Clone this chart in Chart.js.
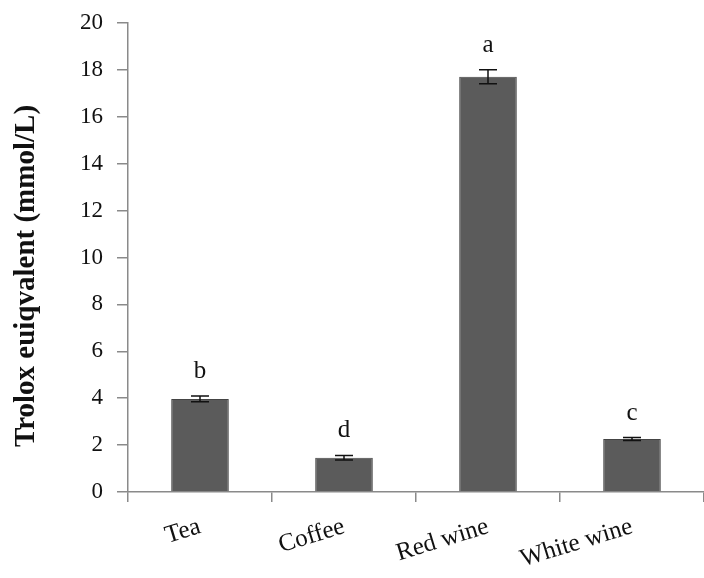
<!DOCTYPE html>
<html>
<head>
<meta charset="utf-8">
<script src="https://cdn.jsdelivr.net/npm/chart.js@4/dist/chart.umd.min.js"></script>
<style>
  html, body { margin: 0; padding: 0; background: #ffffff; }
  #wrap { width: 704px; height: 578px; position: relative; }
</style>
</head>
<body>
<div id="wrap"><canvas id="chart" width="704" height="578"></canvas></div>
<script>
// Antioxidant capacity of beverages
const categories = ['Tea', 'Coffee', 'Red wine', 'White wine'];
const troloxValues = [3.97, 1.46, 17.71, 2.26];
const troloxErrors = [0.12, 0.10, 0.30, 0.06];
const groupLetters = ['b', 'd', 'a', 'c'];
const yTicks = [0, 2, 4, 6, 8, 10, 12, 14, 16, 18, 20];

const SERIF = '"Liberation Serif", "Times New Roman", serif';
const AXIS_GREY = '#8a8a8a';

// Error bars (caps + stem) and significance letters above each bar
const errorBarPlugin = {
  id: 'errorBars',
  afterDatasetsDraw(chart) {
    const { ctx, scales: { y } } = chart;
    const meta = chart.getDatasetMeta(0);
    ctx.save();
    meta.data.forEach((bar, i) => {
      const v = troloxValues[i];
      const e = troloxErrors[i];
      const yTop = y.getPixelForValue(v + e);
      const yBot = y.getPixelForValue(v - e);
      const x = bar.x;
      ctx.strokeStyle = '#111111';
      ctx.lineWidth = 1.5;
      ctx.beginPath();
      ctx.moveTo(x, yTop); ctx.lineTo(x, yBot);
      ctx.moveTo(x - 9, yTop); ctx.lineTo(x + 9, yTop);
      ctx.moveTo(x - 9, yBot); ctx.lineTo(x + 9, yBot);
      ctx.stroke();

      ctx.fillStyle = '#111111';
      ctx.font = '25px ' + SERIF;
      ctx.textAlign = 'center';
      ctx.textBaseline = 'alphabetic';
      ctx.fillText(groupLetters[i], x, yTop - 18);
    });
    ctx.restore();
  }
};

// Vertical axis title
const yTitlePlugin = {
  id: 'yTitle',
  afterDraw(chart) {
    const { ctx } = chart;
    ctx.save();
    ctx.translate(27, 276);
    ctx.rotate(-Math.PI / 2);
    ctx.fillStyle = '#111111';
    ctx.font = 'bold 29px ' + SERIF;
    ctx.textAlign = 'center';
    ctx.textBaseline = 'middle';
    ctx.fillText('Trolox euiqvalent (mmol/L)', 0, 0);
    ctx.restore();
  }
};

new Chart(document.getElementById('chart'), {
  type: 'bar',
  data: {
    labels: categories,
    datasets: [{
      data: troloxValues,
      backgroundColor: '#5b5b5b',
      borderColor: '#444444',
      borderWidth: 1,
      barPercentage: 0.4,
      categoryPercentage: 1.0
    }]
  },
  options: {
    responsive: false,
    animation: false,
    devicePixelRatio: 1,
    layout: { padding: { top: 23, right: 0, left: 0, bottom: 0 } },
    plugins: {
      legend: { display: false },
      tooltip: { enabled: false }
    },
    scales: {
      x: {
        offset: true,
        grid: {
          offset: true,
          drawOnChartArea: false,
          drawTicks: true,
          tickLength: 10,
          color: AXIS_GREY,
          lineWidth: 1.5
        },
        border: { color: AXIS_GREY, width: 1.5 },
        ticks: {
          minRotation: 17,
          maxRotation: 17,
          padding: 10,
          color: '#111111',
          font: { family: SERIF, size: 25 }
        },
        afterFit(scale) { scale.height = 86; }
      },
      y: {
        min: 0,
        max: 20,
        afterBuildTicks(scale) { scale.ticks = yTicks.map(v => ({ value: v })); },
        grid: {
          drawOnChartArea: false,
          drawTicks: true,
          tickLength: 11,
          color: AXIS_GREY,
          lineWidth: 1.5
        },
        border: { color: AXIS_GREY, width: 1.5 },
        ticks: {
          padding: 14,
          color: '#111111',
          font: { family: SERIF, size: 23 }
        },
        afterFit(scale) {
          scale.width = 128;
          scale.paddingTop = 0;
          scale.paddingBottom = 0;
        }
      }
    }
  },
  plugins: [errorBarPlugin, yTitlePlugin]
});
</script>
</body>
</html>
